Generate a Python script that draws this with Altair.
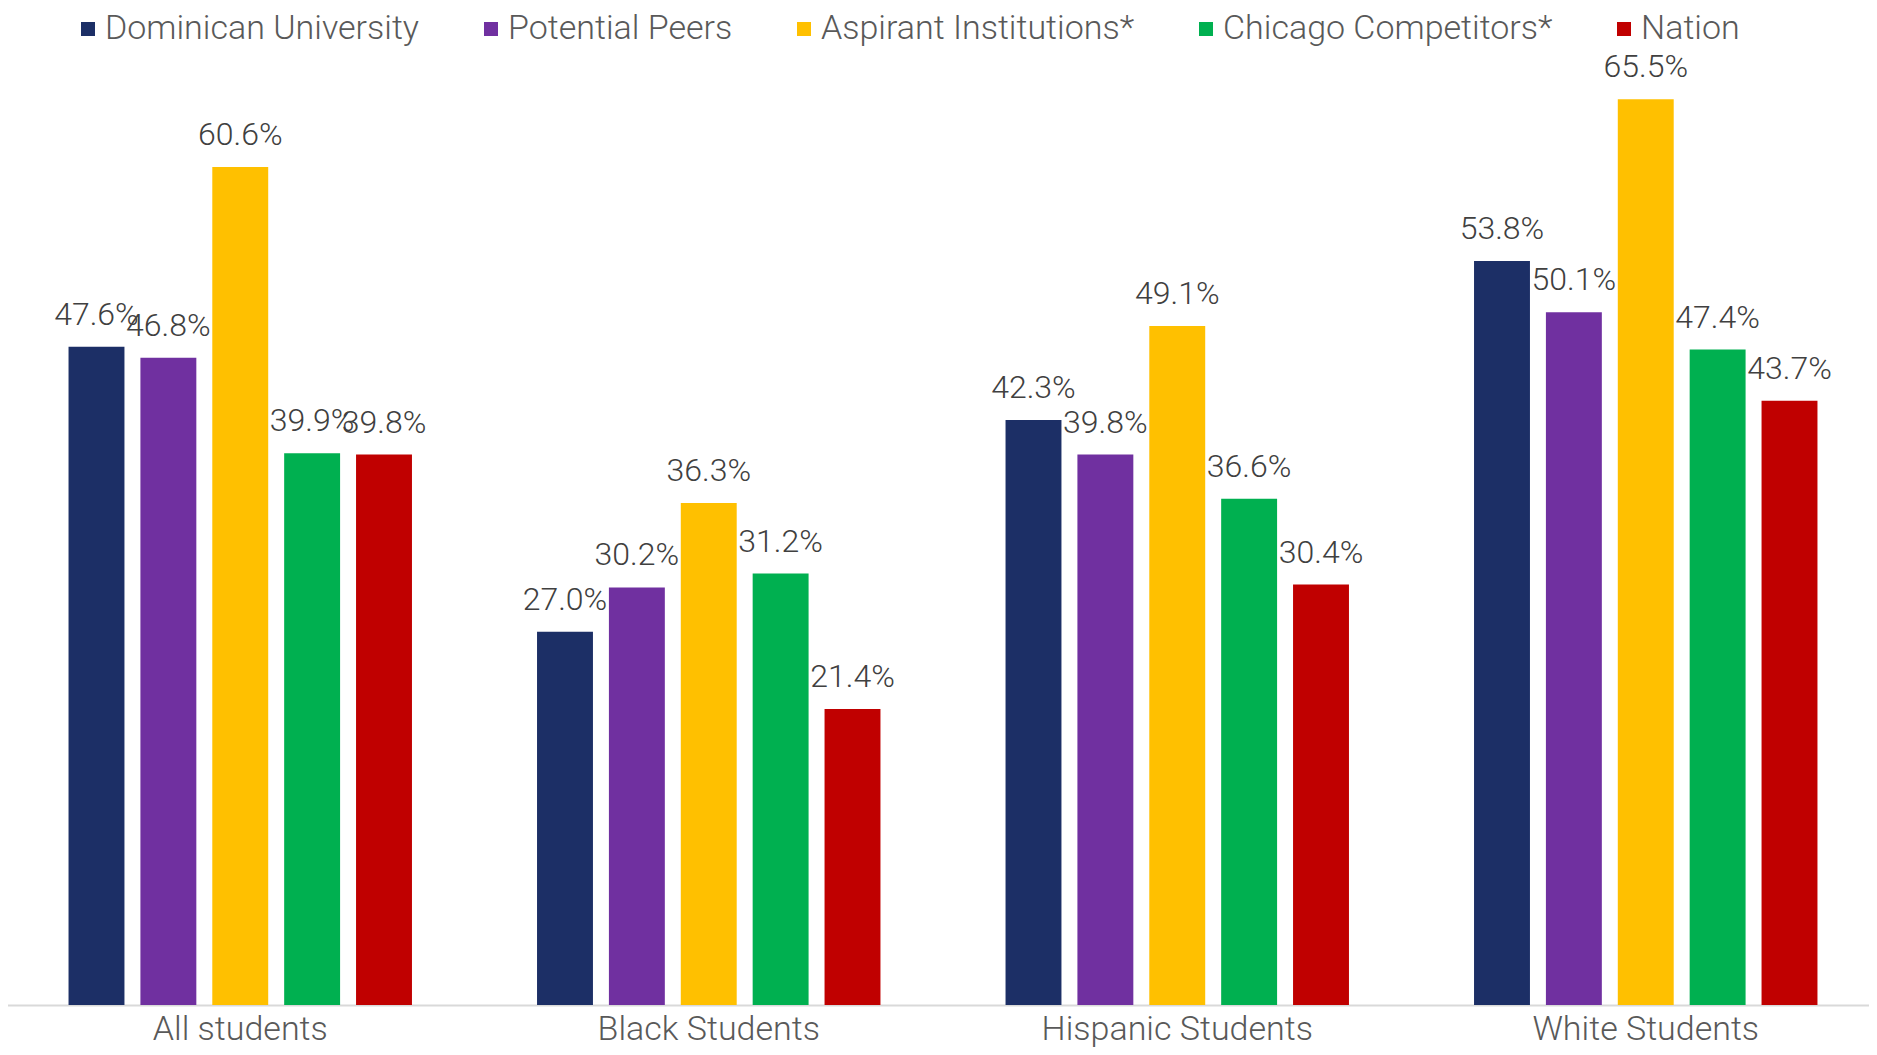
import altair as alt
import pandas as pd

categories = ["All students", "Black Students", "Hispanic Students", "White Students"]
series = ["Dominican University", "Potential Peers", "Aspirant Institutions*", "Chicago Competitors*", "Nation"]
colors = ["#1C2F66", "#7030A0", "#FFC000", "#00B050", "#C00000"]

dominican = [47.6, 27.0, 42.3, 53.8]
peers = [46.8, 30.2, 39.8, 50.1]
aspirant = [60.6, 36.3, 49.1, 65.5]
chicago = [39.9, 31.2, 36.6, 47.4]
nation = [39.8, 21.4, 30.4, 43.7]

values = [dominican, peers, aspirant, chicago, nation]
rows = []
for s, vals in zip(series, values):
    for c, v in zip(categories, vals):
        rows.append({"category": c, "series": s, "value": v})
df = pd.DataFrame(rows)

FONT = "Roboto"
TXT = "#595959"

base = alt.Chart(df).encode(
    x=alt.X("category:N", sort=categories,
            scale=alt.Scale(paddingInner=0, paddingOuter=0),
            axis=alt.Axis(title=None, labelAngle=0, ticks=False, domainColor="#D9D9D9",
                          domainWidth=2, labelFont=FONT, labelFontSize=34, labelFontWeight=300,
                          labelColor=TXT, labelPadding=7, labelLimit=0)),
    xOffset=alt.XOffset("series:N", sort=series,
                        scale=alt.Scale(paddingInner=0.222, paddingOuter=0.87)),
)

bars = base.mark_bar().encode(
    y=alt.Y("value:Q", scale=alt.Scale(domain=[0, 70], nice=False), axis=None),
    color=alt.Color("series:N", sort=series,
                    scale=alt.Scale(domain=series, range=colors),
                    legend=alt.Legend(title=None, orient="none", direction="horizontal",
                                      legendX=58, legendY=-25, columns=5, columnPadding=47,
                                      symbolType="square", symbolSize=196, symbolStrokeWidth=0,
                                      symbolOffset=7,
                                      labelFont=FONT, labelFontSize=34, labelFontWeight=300,
                                      labelColor=TXT, labelOffset=0, labelLimit=600)),
)

labels = base.mark_text(baseline="alphabetic", dy=-22, font=FONT, fontSize=32,
                        fontWeight=300, color="#404040").encode(
    y=alt.Y("value:Q", scale=alt.Scale(domain=[0, 70], nice=False), axis=None),
    text="label:N",
).transform_calculate(label="format(datum.value, '.1f') + '%'")

chart = alt.layer(bars, labels).properties(
    width=1874, height=968,
    autosize=alt.AutoSizeParams(type="none"),
    padding={"left": -2, "right": -11, "top": 29, "bottom": 42},
).configure_view(stroke=None)

chart.save("out.html", embed_options={"renderer": "svg", "actions": False})
